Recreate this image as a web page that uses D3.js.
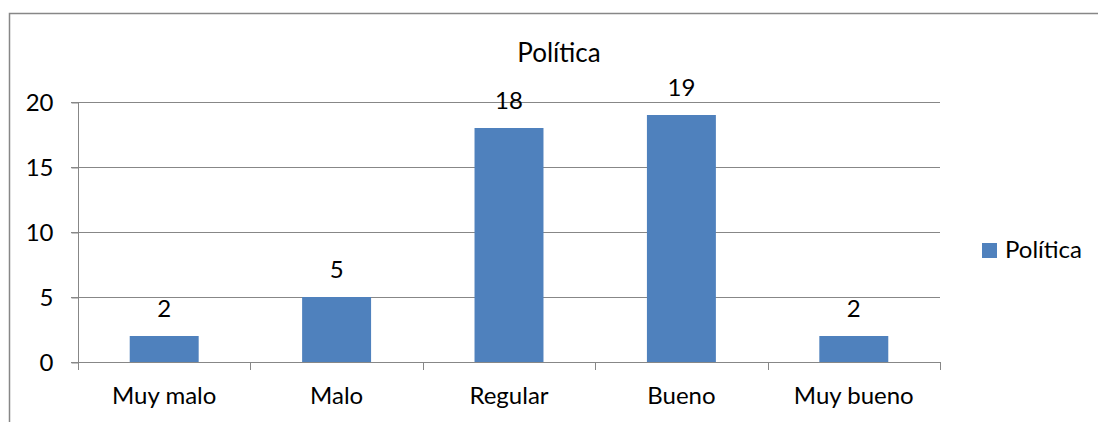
<!DOCTYPE html>
<html><head><meta charset="utf-8">
<script src="https://cdn.jsdelivr.net/npm/d3@7"></script>
<style>body{margin:0;background:#fff}svg{display:block}text{font-family:Lato,"Open Sans",sans-serif;fill:#000}</style>
</head><body><svg id="c" width="1098" height="422"></svg>
<script>
const categories = ["Muy malo","Malo","Regular","Bueno","Muy bueno"];
const values = [2,5,18,19,2];
const yTicks = [0,5,10,15,20];
const seriesName = "Política";
const title = "Política";

const svg = d3.select("#c");
const grey = "#878787";
const L = 78, R = 940, T = 102, B = 362;
const FS = 24;
const x = d3.scaleBand().domain(categories).range([L,R]).paddingInner(0.6).paddingOuter(0.3);
const xb = d3.scaleBand().domain(categories).range([L,R]);
const y = d3.scaleLinear().domain([0,20]).range([B,T]);

// border
svg.append("path").attr("d","M9.5,430 L9.5,13.5 L1098,13.5").attr("fill","none").attr("stroke",grey).attr("stroke-width",1.5);

// gridlines
svg.append("g").selectAll("line").data(yTicks.filter(d=>d>0)).join("line")
  .attr("x1",L-7).attr("x2",R).attr("y1",d=>Math.round(y(d))+0.5).attr("y2",d=>Math.round(y(d))+0.5)
  .attr("stroke",grey).attr("stroke-width",1);

// y axis
const ya = d3.axisLeft(y).tickValues(yTicks).tickSize(7).tickPadding(18);
const gy = svg.append("g").attr("transform",`translate(${L+0.5},0.5)`).call(ya);
gy.select(".domain").attr("stroke",grey).attr("d",`M0,${T}V${B}`);
gy.selectAll(".tick line").attr("stroke",grey);
gy.selectAll(".tick text").attr("font-size",FS).style("font-family","Lato").attr("fill","#000");

// x axis line and ticks
svg.append("line").attr("x1",L-7).attr("x2",R).attr("y1",B+0.5).attr("y2",B+0.5).attr("stroke",grey);
const bounds = categories.map(c=>xb(c)).concat([R]);
svg.append("g").selectAll("line").data(bounds).join("line")
  .attr("x1",d=>Math.round(d)+0.5).attr("x2",d=>Math.round(d)+0.5).attr("y1",B).attr("y2",B+8).attr("stroke",grey);
svg.append("g").selectAll("text").data(categories).join("text")
  .attr("x",d=>xb(d)+xb.bandwidth()/2).attr("y",404).attr("text-anchor","middle").attr("font-size",FS).text(d=>d);

// bars
svg.append("g").selectAll("rect").data(values).join("rect")
  .attr("x",(d,i)=>x(categories[i])).attr("width",x.bandwidth())
  .attr("y",d=>y(d)).attr("height",d=>B-y(d)).attr("fill","#4F81BD");

// labels
svg.append("g").selectAll("text").data(values).join("text")
  .attr("x",(d,i)=>x(categories[i])+x.bandwidth()/2).attr("y",d=>y(d)-19)
  .attr("text-anchor","middle").attr("font-size",FS).text(d=>d);

// title
svg.append("text").attr("x",559).attr("y",62).attr("text-anchor","middle").attr("font-size",26).text(title);

// legend
svg.append("rect").attr("x",982).attr("y",243).attr("width",15).attr("height",15).attr("fill","#4F81BD");
svg.append("text").attr("x",1005).attr("y",258).attr("font-size",FS).text(seriesName);
</script></body></html>
